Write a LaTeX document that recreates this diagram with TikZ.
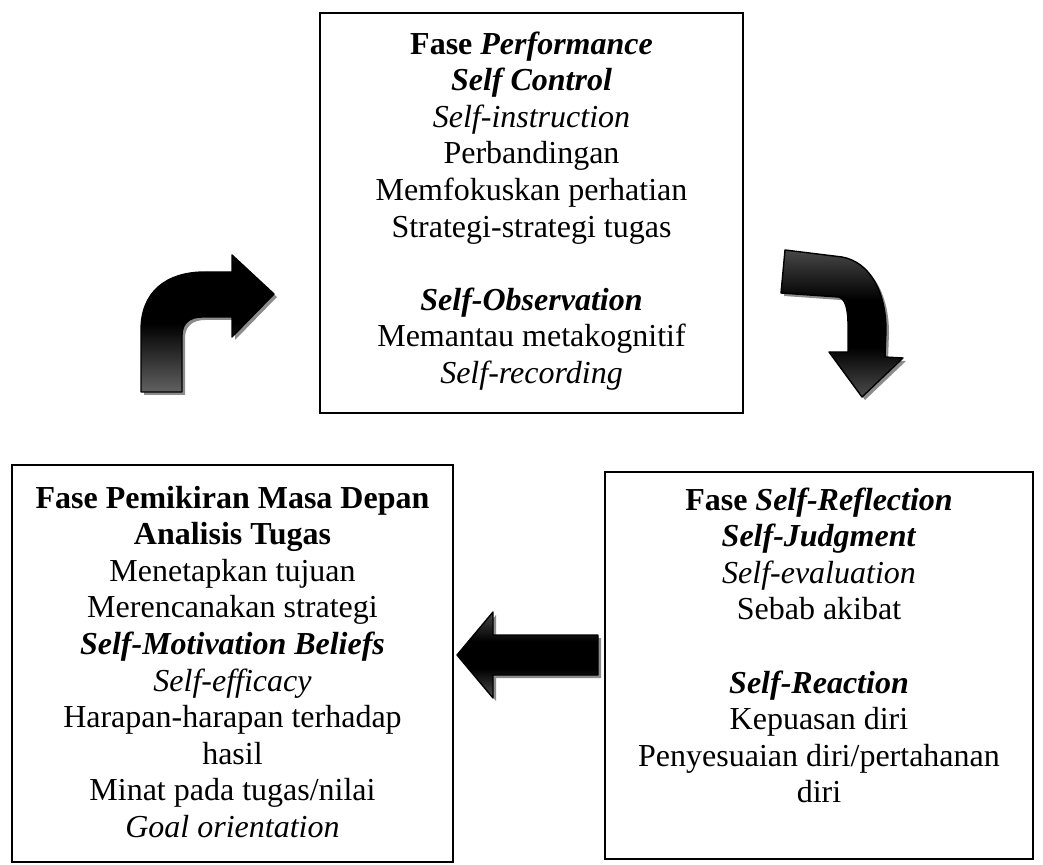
\documentclass[tikz,border=0pt]{standalone}
\usepackage{fontspec}
\setmainfont{Liberation Serif}
\usetikzlibrary{fit}
\pgfdeclareverticalshading{arrowdown}{100bp}{color(0bp)=(black!62); color(25bp)=(black!62); color(50bp)=(black); color(75bp)=(black); color(100bp)=(black)}
\pgfdeclareverticalshading{arrowmid}{100bp}{color(0bp)=(black!70); color(25bp)=(black!70); color(42bp)=(black); color(58bp)=(black); color(75bp)=(black!72); color(100bp)=(black!72)}
\begin{document}
\begin{tikzpicture}[x=0.5pt,y=-0.5pt,
  box/.style={draw=black, line width=1pt, inner sep=0pt},
  txt/.style={align=center, inner sep=0pt, anchor=north, font=\fontsize{16}{18.3}\selectfont},
  blockarrow/.style={draw=black, line width=0.7pt, line join=round},
  arrowshadow/.style={fill=black!45, draw=none}]
\useasboundingbox (0,0) rectangle (1043,865);

% boxes
\node[box, fit={(320,13) (743,413)}] (perf) {};
\node[box, fit={(12,465) (453,862)}] (fore) {};
\node[box, fit={(605,472) (1033,859)}] (refl) {};

% texts
\node[txt] (perftxt) at (531.5,28) {\strut\textbf{Fase \textit{Performance}}\\
  \textbf{\textit{Self Control}}\\
  \textit{Self-instruction}\\
  Perbandingan\\
  Memfokuskan perhatian\\
  Strategi-strategi tugas\\
  \mbox{}\\
  \textbf{\textit{Self-Observation}}\\
  Memantau metakognitif\\
  \textit{Self-recording}};

\node[txt] (foretxt) at (232.5,482) {\strut\textbf{Fase Pemikiran Masa Depan}\\
  \textbf{Analisis Tugas}\\
  Menetapkan tujuan\\
  Merencanakan strategi\\
  \textbf{\textit{Self-Motivation Beliefs}}\\
  \textit{Self-efficacy}\\
  Harapan-harapan terhadap\\
  hasil\\
  Minat pada tugas/nilai\\
  \textit{Goal orientation}};

\node[txt] (refltxt) at (819,484) {\strut\textbf{Fase \textit{Self-Reflection}}\\
  \textbf{\textit{Self-Judgment}}\\
  \textit{Self-evaluation}\\
  Sebab akibat\\
  \mbox{}\\
  \textbf{\textit{Self-Reaction}}\\
  Kepuasan diri\\
  Penyesuaian diri/pertahanan\\
  diri};

% arrow 1 (up and right)
\path[arrowshadow, shift={(3,3)}] (141,392) -- (141,330) .. controls (141,292) and (166,272) .. (205,272) -- (232,272) -- (232,255) -- (274,294) -- (232,337) -- (232,317) -- (202,317) .. controls (190,317) and (182,323) .. (182,335) -- (182,392) -- cycle;
\path[blockarrow, shading=arrowdown] (141,392) -- (141,330) .. controls (141,292) and (166,272) .. (205,272) -- (232,272) -- (232,255) -- (274,294) -- (232,337) -- (232,317) -- (202,317) .. controls (190,317) and (182,323) .. (182,335) -- (182,392) -- cycle;

% arrow 2 (right and down)
\path[arrowshadow, shift={(3,3)}] (785,250) -- (842,257) .. controls (870,262) and (886,292) .. (886,330) -- (885,357) -- (903,358) -- (862,397) -- (829,352) -- (848,352) -- (848,325) .. controls (848,308) and (845,298) .. (838,297) -- (781,293) -- cycle;
\path[blockarrow, shading=arrowmid] (785,250) -- (842,257) .. controls (870,262) and (886,292) .. (886,330) -- (885,357) -- (903,358) -- (862,397) -- (829,352) -- (848,352) -- (848,325) .. controls (848,308) and (845,298) .. (838,297) -- (781,293) -- cycle;

% arrow 3 (left)
\path[arrowshadow, shift={(3,3)}] (457,655) -- (493,612) -- (493,635) -- (598,635) -- (598,675) -- (493,675) -- (493,698) -- cycle;
\path[blockarrow, shading=arrowmid] (457,655) -- (493,612) -- (493,635) -- (598,635) -- (598,675) -- (493,675) -- (493,698) -- cycle;
\end{tikzpicture}
\end{document}
